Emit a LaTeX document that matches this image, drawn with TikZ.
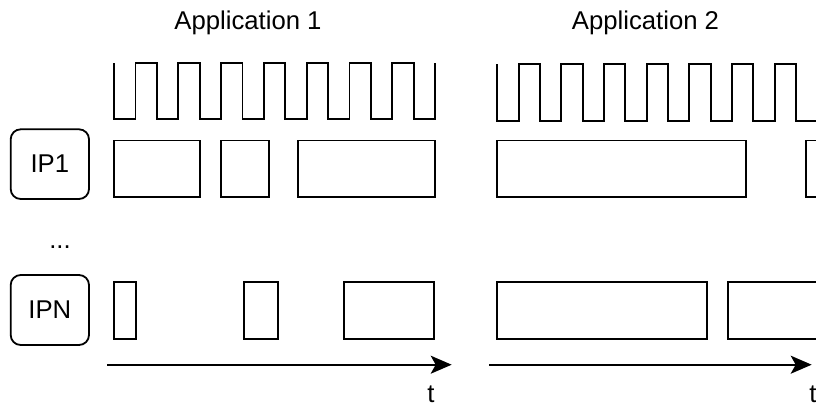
\documentclass[tikz,border=0pt]{standalone}
\usepackage{fontspec}
\setmainfont{Liberation Sans}
\usetikzlibrary{arrows.meta}
\begin{document}
\begin{tikzpicture}[x=1pt,y=-1pt,
  every node/.style={font=\fontsize{25.7}{30}\selectfont},
  ipbox/.style={draw, line width=1.8pt, rounded corners=10pt, inner sep=0pt,
    minimum width=78.3pt, minimum height=69.7pt},
  slot/.style={draw, line width=1.8pt, inner sep=0pt},
  clk/.style={draw, line width=1.8pt, line join=miter},
  timeax/.style={draw, line width=1.8pt, -{Stealth[length=21pt,width=18pt,inset=5pt]}},
  lbl/.style={inner sep=0pt, anchor=base}]
\useasboundingbox (0,0) rectangle (816,405);
\clip (0,0) rectangle (816,405);

% titles
\node[lbl] (app1) at (248,29.3) {Application 1};
\node[lbl] (app2) at (645.5,29.3) {Application 2};

% clocks
\draw[clk] (114,63.3) -- (114,119.3)
  \foreach \k in {0,...,6} { -- ++(21.4,0) -- ++(0,-56) -- ++(21.4,0) -- ++(0,56) }
  -- ++(21.4,0) -- ++(0,-56);
\draw[clk] (497.3,64.3) -- (497.3,120.7)
  \foreach \k in {0,...,6} { -- ++(21.33,0) -- ++(0,-56.4) -- ++(21.33,0) -- ++(0,56.4) }
  -- ++(21.33,0) -- ++(0,-56.4);

% IP labels
\node[ipbox] (ip1) at (49.85,164.15) {IP1};
\node[ipbox, minimum height=70pt] (ipn) at (49.85,310) {IPN};
\node[lbl] (dots) at (60,248) {...};

% IP1 row
\begin{scope}[every node/.append style={minimum height=56.2pt}]
\node[slot, minimum width=86pt] (a1) at (157,168.6) {};
\node[slot, minimum width=47.7pt] (a2) at (244.85,168.6) {};
\node[slot, minimum width=137pt] (a3) at (366.8,168.6) {};
\node[slot, minimum width=249.3pt] (a4) at (621.65,168.6) {};
\node[slot, minimum width=200pt] (a5) at (905.7,168.6) {};
\end{scope}

% IPN row
\begin{scope}[every node/.append style={minimum height=56.7pt}]
\node[slot, minimum width=22pt] (b1) at (125,310.35) {};
\node[slot, minimum width=33.7pt] (b2) at (260.85,310.35) {};
\node[slot, minimum width=90pt] (b3) at (389.3,310.35) {};
\node[slot, minimum width=210.3pt] (b4) at (601.85,310.35) {};
\node[slot, minimum width=200pt] (b5) at (827.7,310.35) {};
\end{scope}

% time axes
\coordinate (t1s) at (107.3,364.7);
\coordinate (t1e) at (451.7,364.7);
\coordinate (t2s) at (489,364.7);
\coordinate (t2e) at (811.7,364.7);
\draw[timeax] (t1s) -- (t1e);
\draw[timeax] (t2s) -- (t2e);
\node[lbl] (tl1) at (431,402) {t};
\node[lbl] (tl2) at (813,402) {t};
\end{tikzpicture}
\end{document}
